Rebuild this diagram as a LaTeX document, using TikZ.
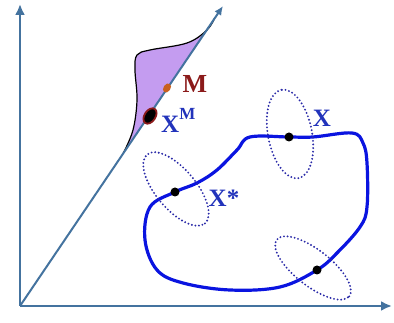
\documentclass[tikz,border=0pt]{standalone}
\usepackage{fontspec}
\setmainfont{Liberation Serif}
\usetikzlibrary{arrows.meta,shapes.geometric}
\definecolor{axiscol}{HTML}{44739F}
\definecolor{regioncol}{HTML}{C49CF0}
\definecolor{curvecol}{HTML}{0A14E0}
\definecolor{dotcol}{HTML}{2A2AA8}
\definecolor{labelcol}{HTML}{2233BB}
\definecolor{mcol}{HTML}{8B1A1A}
\definecolor{morange}{HTML}{C8601E}
\tikzset{
  axis/.style={draw=axiscol, line width=2.8pt, -{Latex[length=11pt,width=10pt]}},
  diag/.style={draw=axiscol, line width=2pt, -{Latex[length=9pt,width=8pt]}},
  loopcurve/.style={draw=curvecol, line width=3.2pt},
  nbhd/.style={draw=dotcol, line width=2.1pt, line cap=round, dash pattern=on 0pt off 3.6pt},
  pt/.style={circle, fill=black, inner sep=0pt, minimum size=9pt},
  lbl/.style={text=labelcol, font=\fontsize{25}{25}\selectfont\bfseries, inner sep=0pt}
}
\begin{document}
\begin{tikzpicture}[x=1pt,y=1pt]
\useasboundingbox (0,0) rectangle (394,323);
% purple region
\fill[regioncol] plot[smooth, tension=0.6] coordinates {(123.4,170) (133,193) (137,223) (135,253) (137,268) (150,273) (187,280) (207,293) (214.6,305)} -- cycle;
\draw[black, line width=1.2pt] plot[smooth, tension=0.6] coordinates {(123.4,170) (133,193) (137,223) (135,253) (137,268) (150,273) (187,280) (207,293) (214.6,305)};
% axes
\coordinate (O) at (20,17);
\coordinate (ytip) at (20,319);
\coordinate (xtip) at (392,17);
\coordinate (dtip) at (223,317);
\draw[axis] (O) -- (ytip);
\draw[axis] (O) -- (xtip);
\draw[diag] (O) -- (dtip);
% M and X^M
\node[ellipse, fill=morange, inner sep=0pt, minimum width=10pt, minimum height=7pt, rotate=56] (m) at (167,235) {};
\node[ellipse, fill=black, draw=mcol, line width=1.8pt, inner sep=0pt, minimum width=17pt, minimum height=11pt, rotate=56] (xm) at (150,207) {};
\node[text=mcol, font=\fontsize{26}{26}\selectfont\bfseries, inner sep=0pt] (mlbl) at (195,239) {M};
\node[lbl, anchor=west] (xmlbl) at (161,203) {X\raisebox{13pt}{\fontsize{17}{17}\selectfont M}};
% closed curve
\draw[loopcurve] plot[smooth cycle, tension=0.6] coordinates {(250,186) (289,186) (313,186) (352,190) (363,180) (367,160) (367,116) (360,96) (337,70) (317,53) (280,36) (230,33) (183,40) (157,53) (145,83) (150,116) (175,131) (197,140) (217,153) (237,173)};
% neighbourhoods
\draw[nbhd] (290,189) ellipse[x radius=45, y radius=22, rotate=101];
\draw[nbhd] (176,134) ellipse[x radius=45, y radius=20, rotate=-50];
\draw[nbhd] (313,55) ellipse[x radius=46, y radius=18, rotate=-38];
% points
\node[pt] (px) at (289,186) {};
\node[pt] (pxs) at (175,131) {};
\node[pt] (pb) at (317,53) {};
% labels
\node[lbl] (xlbl) at (322,205) {X};
\node[lbl] (xslbl) at (224,125) {X*};
\end{tikzpicture}
\end{document}
